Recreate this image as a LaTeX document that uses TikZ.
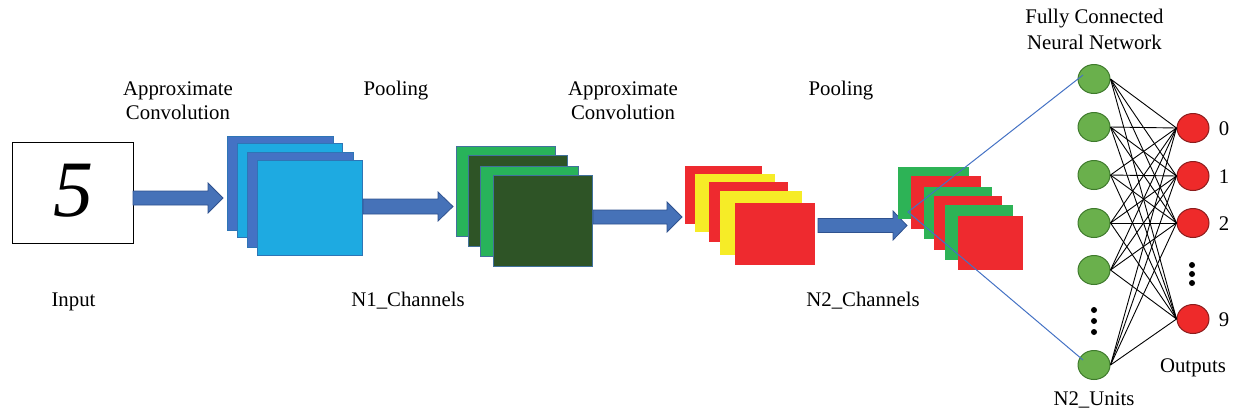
\documentclass[tikz,border=0pt]{standalone}
\usepackage{fontspec}
\setmainfont{Liberation Serif}
\usetikzlibrary{shapes.geometric}
\definecolor{dblue}{HTML}{4472C4}
\definecolor{lblue}{HTML}{1EAAE1}
\definecolor{bedge}{HTML}{2E75B6}
\definecolor{arrfill}{HTML}{4672B8}
\definecolor{arredge}{HTML}{2F528F}
\definecolor{lgreen}{HTML}{28B35A}
\definecolor{dgreen}{HTML}{2E5426}
\definecolor{gedge}{HTML}{41719C}
\definecolor{redc}{HTML}{EE2A2F}
\definecolor{yellowc}{HTML}{F6EC27}
\definecolor{sgreen}{HTML}{2DB356}
\definecolor{nodegreen}{HTML}{6AB04C}
\definecolor{nodegreenedge}{HTML}{3E7A2C}
\definecolor{nodered}{HTML}{EE2A2A}
\definecolor{noderededge}{HTML}{8C1C1C}
\definecolor{linkblue}{HTML}{4472C4}
\tikzset{
  lbl/.style={font=\fontsize{20.8}{25}\selectfont, anchor=base, inner sep=0pt},
  digit/.style={font=\fontsize{20.8}{25}\selectfont, anchor=center, inner sep=0pt},
  unitnode/.style={ellipse, minimum width=32pt, minimum height=29pt, inner sep=0pt, fill=nodegreen, draw=nodegreenedge, line width=1pt},
  outnode/.style={ellipse, minimum width=32pt, minimum height=29pt, inner sep=0pt, fill=nodered, draw=noderededge, line width=1pt},
  blk/.style={fill=arrfill, draw=arredge, line width=0.8pt},
  conn/.style={black, line width=0.9pt},
  link/.style={linkblue, line width=1pt},
  dotf/.style={fill=black},
  bluerect/.style={draw=bedge, line width=0.8pt},
  greenrect/.style={draw=gedge, line width=0.9pt},
}
\begin{document}
\begin{tikzpicture}[x=1pt,y=-1pt]
\useasboundingbox (0,0) rectangle (1239,413);

% input
\node[draw, line width=1pt, minimum width=121pt, minimum height=101pt, inner sep=0pt] (input) at (72.5,192.5) {};
\node[font=\fontsize{80}{80}\selectfont\itshape, inner sep=0pt] (five) at (73,191) {5};

% arrow 1
\draw[blk] (133,191) -- (208,191) -- (208,183) -- (223,198) -- (208,213) -- (208,205) -- (133,205) -- cycle;

% blue stack
\draw[bluerect, fill=dblue] (227,136) rectangle (333,230);
\draw[bluerect, fill=lblue] (237,143) rectangle (342,237);
\draw[bluerect, fill=dblue] (247,152) rectangle (353,247);
\draw[bluerect, fill=lblue] (257,160) rectangle (362,255);

% arrow 2
\draw[blk] (363,199) -- (438,199) -- (438,192) -- (453,206.5) -- (438,221) -- (438,214) -- (363,214) -- cycle;

% green stack
\draw[greenrect, fill=lgreen] (456,146) rectangle (555,236);
\draw[greenrect, fill=dgreen] (468,155) rectangle (567,246);
\draw[greenrect, fill=lgreen] (480,166) rectangle (578,256);
\draw[greenrect, fill=dgreen] (493,175) rectangle (592,266);

% arrow 3
\draw[blk] (593,210) -- (667,210) -- (667,202) -- (682,217) -- (667,232) -- (667,224) -- (593,224) -- cycle;

% red/yellow stack
\fill[redc] (685,166) rectangle (762,224);
\fill[yellowc] (695,174) rectangle (775,232);
\fill[redc] (709,182) rectangle (788,242);
\fill[yellowc] (720,191) rectangle (802,255);
\fill[redc] (735,203) rectangle (815,265);

% arrow 4
\draw[blk] (818,218.5) -- (893,218.5) -- (893,211) -- (907,225.5) -- (893,240) -- (893,232.5) -- (818,232.5) -- cycle;

% small stack
\fill[sgreen] (898,167) rectangle (969,219);
\fill[redc] (911,176) rectangle (981,229);
\fill[sgreen] (924,187) rectangle (992,239);
\fill[redc] (934,196) rectangle (1002,250);
\fill[sgreen] (945,205) rectangle (1013,260);
\fill[redc] (958,216) rectangle (1023,270);

% hidden units
\node[unitnode] (g1) at (1094,79) {};
\node[unitnode] (g2) at (1094,127) {};
\node[unitnode] (g3) at (1094,175) {};
\node[unitnode] (g4) at (1094,223) {};
\node[unitnode] (g5) at (1094,270) {};
\node[unitnode] (g6) at (1094,365) {};

% outputs
\node[outnode] (o0) at (1193,128) {};
\node[outnode] (o1) at (1193,176) {};
\node[outnode] (o2) at (1193,223) {};
\node[outnode] (o9) at (1193,319) {};

% connections
\foreach \g in {g1,g2,g3,g4,g5,g6}{
  \foreach \o in {o0,o1,o2,o9}{
    \draw[conn] (\g.east) -- (\o.west);
  }
}

% fork lines
\coordinate (fork) at (908,212);
\coordinate (forktop) at (1083,75);
\coordinate (forkbot) at (1083,360);
\draw[link] (forktop) -- (fork) -- (forkbot);

% dots
\foreach \y in {310,321,332} \fill[dotf] (1094,\y) circle (3pt);
\foreach \y in {265,274,283} \fill[dotf] (1192,\y) circle (3pt);

% labels
\node[lbl] (t1a) at (178,95) {Approximate};
\node[lbl] (t1b) at (178,119) {Convolution};
\node[lbl] (t2) at (396,95) {Pooling};
\node[lbl] (t3a) at (623,95) {Approximate};
\node[lbl] (t3b) at (623,119) {Convolution};
\node[lbl] (t4) at (841,95) {Pooling};
\node[lbl] (t5a) at (1094.5,23) {Fully Connected};
\node[lbl] (t5b) at (1094.5,49) {Neural Network};
\node[lbl] (tin) at (73.5,306) {Input};
\node[lbl] (tn1) at (408,306) {N1\_Channels};
\node[lbl] (tn2) at (863,306) {N2\_Channels};
\node[lbl] (tout) at (1193,372) {Outputs};
\node[lbl] (tunits) at (1094,405) {N2\_Units};
\node[digit] (d0) at (1224,129) {0};
\node[digit] (d1) at (1224,177) {1};
\node[digit] (d2) at (1224,224) {2};
\node[digit] (d9) at (1224,320) {9};
\end{tikzpicture}
\end{document}
